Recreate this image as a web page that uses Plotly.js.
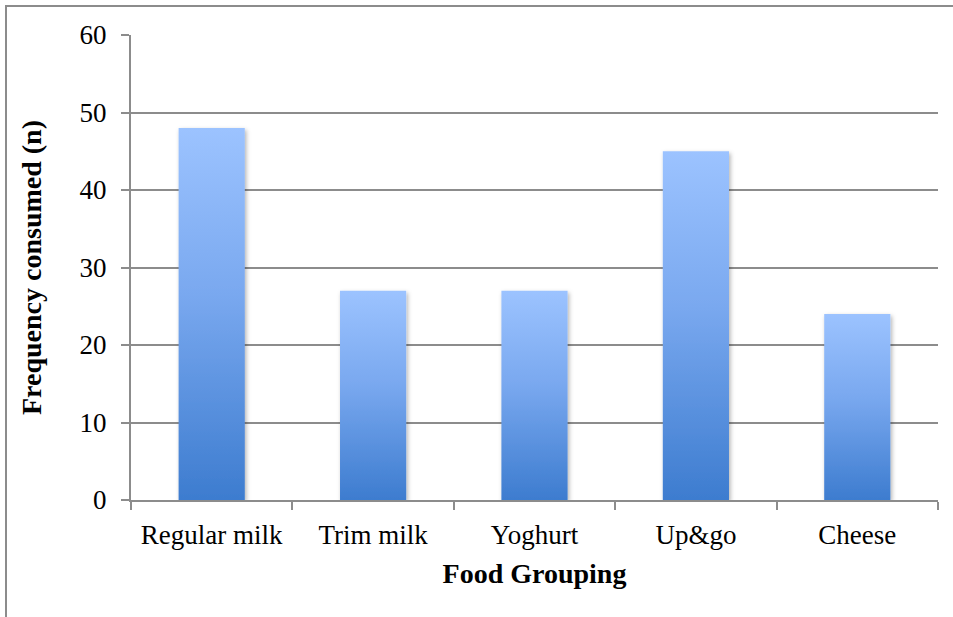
<!DOCTYPE html>
<html>
<head>
<meta charset="utf-8">
<script src="https://cdn.plot.ly/plotly-3.0.1.min.js"></script>
<style>
  html, body { margin: 0; padding: 0; background: #fff; overflow: hidden; }
  #frame { position: absolute; left: 5px; top: 5px; width: 960px; height: 630px;
           border-left: 2px solid #8c8c8c; border-top: 2px solid #8c8c8c; }
  #chart { position: absolute; left: 0; top: 0; width: 953px; height: 617px; }
</style>
</head>
<body>
<div id="frame"></div>
<div id="chart"></div>
<script>
// Food groups and how often each was consumed
const categories = ["Regular milk", "Trim milk", "Yoghurt", "Up&go", "Cheese"];
const frequency = [48, 27, 27, 45, 24];
const yTicks = [0, 10, 20, 30, 40, 50, 60];

const serif = "Liberation Serif, Times New Roman, serif";
const gridGrey = "#8c8c8c";
const fontSize = 27;

const trace = {
  type: "bar",
  x: categories,
  y: frequency,
  marker: { color: "#6a9fe6", line: { width: 0 } },
  hoverinfo: "x+y"
};

const layout = {
  width: 953,
  height: 617,
  margin: { l: 131, r: 15, t: 35, b: 117 },
  paper_bgcolor: "rgba(0,0,0,0)",
  plot_bgcolor: "rgba(0,0,0,0)",
  bargap: 0.59,
  showlegend: false,
  font: { family: serif, size: fontSize, color: "#000" },
  xaxis: {
    type: "category",
    tickson: "boundaries",
    ticks: "outside",
    ticklen: 8,
    tickwidth: 2,
    tickcolor: gridGrey,
    showline: true,
    linecolor: gridGrey,
    linewidth: 2,
    showgrid: false,
    tickfont: { family: serif, size: fontSize, color: "#000" },
    ticklabelstandoff: 10,
    title: { text: "<b>Food Grouping</b>", font: { family: serif, size: 28, color: "#000" }, standoff: 14 }
  },
  yaxis: {
    range: [0, 60],
    tickvals: yTicks,
    ticks: "outside",
    ticklen: 8,
    tickwidth: 2,
    tickcolor: gridGrey,
    showline: true,
    linecolor: gridGrey,
    linewidth: 2,
    showgrid: true,
    gridcolor: gridGrey,
    gridwidth: 2,
    zeroline: false,
    tickfont: { family: serif, size: fontSize, color: "#000" },
    ticklabelstandoff: 9,
    title: { text: "<b>Frequency consumed (n)</b>", font: { family: serif, size: 28, color: "#000" }, standoff: 30 }
  }
};

Plotly.newPlot("chart", [trace], layout, { staticPlot: true, displayModeBar: false }).then(function (gd) {
  // vertical blue gradient and soft shadow for every bar
  const svg = gd.querySelector("svg.main-svg");
  const ns = "http://www.w3.org/2000/svg";
  let defs = svg.querySelector("defs");
  if (!defs) { defs = document.createElementNS(ns, "defs"); svg.insertBefore(defs, svg.firstChild); }
  const grad = document.createElementNS(ns, "linearGradient");
  grad.setAttribute("id", "barGradient");
  grad.setAttribute("x1", "0"); grad.setAttribute("y1", "0");
  grad.setAttribute("x2", "0"); grad.setAttribute("y2", "1");
  [["0", "#9cc3ff"], ["0.45", "#79a8ef"], ["1", "#3d7ccf"]].forEach(function (s) {
    const stop = document.createElementNS(ns, "stop");
    stop.setAttribute("offset", s[0]);
    stop.setAttribute("stop-color", s[1]);
    grad.appendChild(stop);
  });
  defs.appendChild(grad);
  const filt = document.createElementNS(ns, "filter");
  filt.setAttribute("id", "barShadow");
  filt.setAttribute("x", "-10%"); filt.setAttribute("y", "-10%");
  filt.setAttribute("width", "130%"); filt.setAttribute("height", "130%");
  const ds = document.createElementNS(ns, "feDropShadow");
  ds.setAttribute("dx", "1.5"); ds.setAttribute("dy", "2");
  ds.setAttribute("stdDeviation", "2");
  ds.setAttribute("flood-color", "#000");
  ds.setAttribute("flood-opacity", "0.3");
  filt.appendChild(ds);
  defs.appendChild(filt);
  gd.querySelectorAll(".bars .point path").forEach(function (p) {
    p.style.fill = "url(#barGradient)";
    p.style.fillOpacity = "1";
    p.setAttribute("filter", "url(#barShadow)");
  });
});
</script>
</body>
</html>
